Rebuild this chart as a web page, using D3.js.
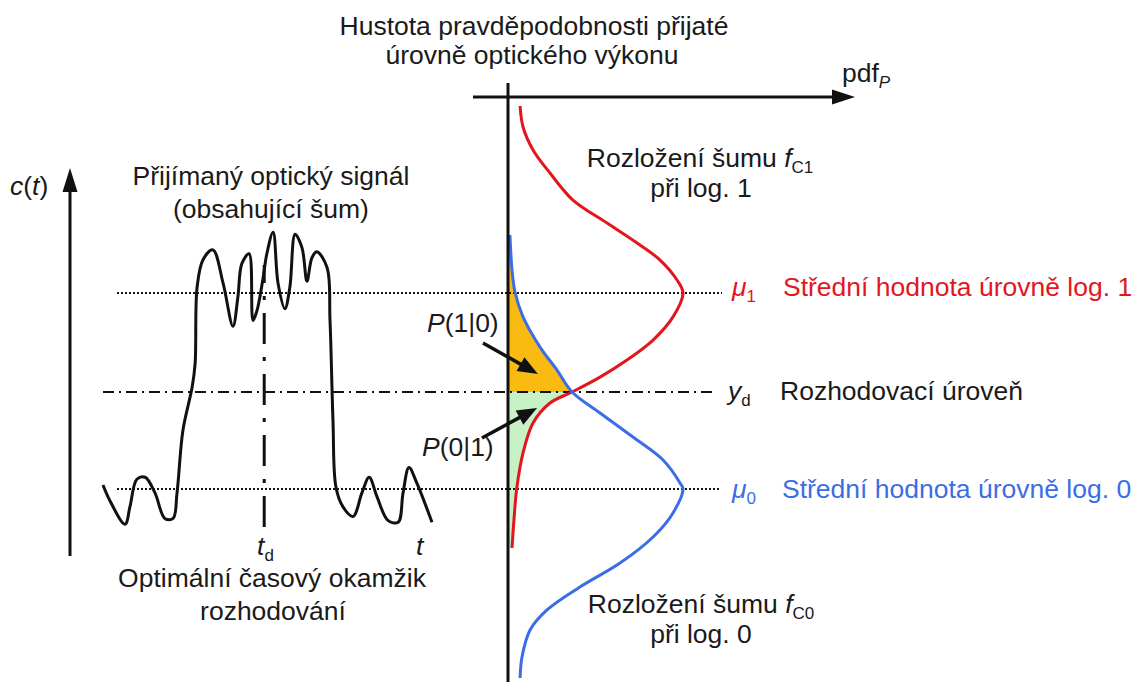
<!DOCTYPE html>
<html>
<head>
<meta charset="utf-8">
<script src="https://cdn.jsdelivr.net/npm/d3@7"></script>
<style>
  body { margin: 0; background: #fff; }
  text { font-family: "Liberation Sans", Arial, sans-serif; font-size: 26.5px; fill: #1a1a1a; }
</style>
</head>
<body>
<div id="chart"></div>
<script>
const WIDTH = 1136;
const HEIGHT = 682;

const RED = '#e3161d';
const BLUE = '#3b6de6';

// levels on the vertical axis (0 = mu0, 1 = mu1)
const levelNames = ['mu0', 'yd', 'mu1'];
const levelValues = [0, 0.495, 1];
const tDecision = 4.9;

// received noisy signal c(t)
const signalTime = [0, 0.21, 0.67, 0.82, 1.03, 1.28, 1.58, 1.88, 2.13, 2.25, 2.43, 2.71, 2.80, 2.86,
  3.04, 3.34, 3.65, 3.95, 4.10, 4.22, 4.44, 4.56, 4.68, 4.86, 4.98, 5.17, 5.32, 5.53, 5.68, 5.84,
  6.05, 6.20, 6.35, 6.50, 6.81, 6.90, 6.99, 7.08, 7.29, 7.60, 7.87, 8.09, 8.33, 8.66, 8.97, 9.12,
  9.30, 9.54, 10.0];
const signalLevel = [0.02, -0.06, -0.18, -0.09, 0.05, 0.06, -0.02, -0.15, -0.15, -0.02, 0.30, 0.52, 0.64, 1.03,
  1.17, 1.22, 1.05, 0.83, 0.98, 1.15, 1.20, 0.86, 0.91, 1.07, 1.20, 1.31, 1.05, 0.92, 1.03, 1.30,
  1.23, 1.06, 1.18, 1.21, 1.13, 0.86, 0.35, 0.01, -0.09, -0.14, -0.02, 0.06, -0.04, -0.16, -0.17, -0.02,
  0.11, 0.03, -0.17];

// noise distribution f_C1 (log. 1)
const pdf1Level = [1.954, 1.847, 1.730, 1.612, 1.474, 1.357, 1.245, 1.168, 1.066, 1.0, 0.878, 0.760,
  0.658, 0.571, 0.495, 0.439, 0.337, 0.184, 0.010, -0.158, -0.301];
const pdf1Density = [0.069, 0.086, 0.143, 0.240, 0.371, 0.566, 0.754, 0.869, 0.966, 1.0, 0.943, 0.829,
  0.680, 0.526, 0.366, 0.240, 0.143, 0.086, 0.051, 0.034, 0.023];

// noise distribution f_C0 (log. 0)
const pdf0Level = [1.296, 1.117, 1.005, 0.878, 0.724, 0.607, 0.495, 0.388, 0.265, 0.148, 0.031, 0,
  -0.122, -0.245, -0.378, -0.500, -0.617, -0.719, -0.857, -0.964];
const pdf0Density = [0.011, 0.023, 0.040, 0.086, 0.183, 0.280, 0.366, 0.526, 0.714, 0.886, 0.983, 1.0,
  0.943, 0.829, 0.640, 0.411, 0.223, 0.126, 0.080, 0.069];

const lvl = name => levelValues[levelNames.indexOf(name)];

const svg = d3.select('#chart')
  .append('svg')
    .attr('width', WIDTH)
    .attr('height', HEIGHT);

const levelY = d3.scaleLinear().domain([0, 1]).range([489, 293]);
const timeX = d3.scaleLinear().domain([0, 10]).range([103, 432]);
const densX = d3.scaleLinear().domain([0, 1]).range([508, 683]);

const sig = signalTime.map((t, i) => ({t, c: signalLevel[i]}));
const f1 = pdf1Level.map((c, i) => ({c, d: pdf1Density[i]}));
const f0 = pdf0Level.map((c, i) => ({c, d: pdf0Density[i]}));
const yd = lvl('yd');

// shaded error areas
const area = d3.area()
  .y(d => levelY(d.c))
  .x0(densX(0))
  .x1(d => densX(d.d))
  .curve(d3.curveCatmullRom);

svg.append('path')
  .attr('d', area(f0.filter(d => d.c >= yd - 1e-6)))
  .attr('fill', '#f9bb12');
svg.append('path')
  .attr('d', area(f1.filter(d => d.c <= yd + 1e-6)))
  .attr('fill', '#c6f2c6');

// horizontal reference lines
svg.append('line')
  .attr('x1', 117).attr('x2', 722)
  .attr('y1', levelY(lvl('mu1'))).attr('y2', levelY(lvl('mu1')))
  .attr('stroke', '#111').attr('stroke-width', 2).attr('stroke-dasharray', '2,2');
svg.append('line')
  .attr('x1', 117).attr('x2', 720)
  .attr('y1', levelY(lvl('mu0'))).attr('y2', levelY(lvl('mu0')))
  .attr('stroke', '#111').attr('stroke-width', 2).attr('stroke-dasharray', '2,2');
svg.append('line')
  .attr('x1', 103).attr('x2', 716)
  .attr('y1', levelY(yd)).attr('y2', levelY(yd))
  .attr('stroke', '#111').attr('stroke-width', 2).attr('stroke-dasharray', '11,5,2,5');

// decision instant t_d
svg.append('line')
  .attr('x1', timeX(tDecision)).attr('x2', timeX(tDecision))
  .attr('y1', 265).attr('y2', 527)
  .attr('stroke', '#111').attr('stroke-width', 3)
  .attr('stroke-dasharray', '31,13,4,13').attr('stroke-dashoffset', 13);

// pdf curves
const pdfLine = d3.line()
  .y(d => levelY(d.c))
  .x(d => densX(d.d))
  .curve(d3.curveCatmullRom);

svg.append('path').attr('d', pdfLine(f1))
  .attr('fill', 'none').attr('stroke', RED).attr('stroke-width', 3);
svg.append('path').attr('d', pdfLine(f0))
  .attr('fill', 'none').attr('stroke', BLUE).attr('stroke-width', 3);

// signal
const sigLine = d3.line()
  .x(d => timeX(d.t))
  .y(d => levelY(d.c))
  .curve(d3.curveCatmullRom);
svg.append('path').attr('d', sigLine(sig))
  .attr('fill', 'none').attr('stroke', '#111').attr('stroke-width', 3)
  .attr('stroke-linejoin', 'round');

// axes
svg.append('line').attr('x1', densX(0)).attr('x2', densX(0)).attr('y1', 83).attr('y2', HEIGHT)
  .attr('stroke', '#111').attr('stroke-width', 3);
svg.append('line').attr('x1', 473).attr('x2', 836).attr('y1', 97).attr('y2', 97)
  .attr('stroke', '#111').attr('stroke-width', 3);
svg.append('path').attr('d', 'M855,97 L832,89.5 L832,104.5 Z').attr('fill', '#111');

svg.append('line').attr('x1', 70).attr('x2', 70).attr('y1', 188).attr('y2', 556)
  .attr('stroke', '#111').attr('stroke-width', 3);
svg.append('path').attr('d', 'M70,168 L62.5,192 L77.5,192 Z').attr('fill', '#111');

// annotation arrows
const arrow = (x1, y1, x2, y2) => {
  const a = Math.atan2(y2 - y1, x2 - x1);
  const L = 20, W = 8;
  const bx = x2 - L * Math.cos(a), by = y2 - L * Math.sin(a);
  svg.append('line').attr('x1', x1).attr('y1', y1).attr('x2', bx + 2 * Math.cos(a)).attr('y2', by + 2 * Math.sin(a))
    .attr('stroke', '#111').attr('stroke-width', 3.5);
  svg.append('path')
    .attr('d', `M${x2},${y2} L${bx + W * Math.sin(a)},${by - W * Math.cos(a)} L${bx - W * Math.sin(a)},${by + W * Math.cos(a)} Z`)
    .attr('fill', '#111');
};
arrow(densX(-0.143), levelY(0.745), densX(0.171), levelY(0.587));
arrow(densX(-0.149), levelY(0.26), densX(0.166), levelY(0.413));

// texts
const rich = (x, y, parts, anchor, fill) => {
  const t = svg.append('text').attr('x', x).attr('y', y)
    .attr('text-anchor', anchor || 'start')
    .style('fill', fill || '#1a1a1a');
  let shift = 0;
  parts.forEach(p => {
    const s = t.append('tspan').text(p.t);
    const want = p.sub ? 6 : 0;
    if (want !== shift) { s.attr('dy', want - shift); shift = want; }
    if (p.sub) s.style('font-size', '17px');
    if (p.i) s.style('font-style', 'italic');
  });
  return t;
};

rich(534, 35, [{t: 'Hustota pravděpodobnosti přijaté'}], 'middle');
rich(532, 64, [{t: 'úrovně optického výkonu'}], 'middle');
rich(842, 82, [{t: 'pdf'}, {t: 'P', sub: true, i: true}]);

rich(10, 195, [{t: 'c', i: true}, {t: '('}, {t: 't', i: true}, {t: ')'}]);
rich(271, 185, [{t: 'Přijímaný optický signál'}], 'middle');
rich(271, 218, [{t: '(obsahující šum)'}], 'middle');

rich(257, 555, [{t: 't', i: true}, {t: 'd', sub: true}]);
rich(416, 555, [{t: 't', i: true}]);
rich(272, 587, [{t: 'Optimální časový okamžik'}], 'middle');
rich(273, 620, [{t: 'rozhodování'}], 'middle');

rich(700, 167, [{t: 'Rozložení šumu '}, {t: 'f', i: true}, {t: 'C1', sub: true}], 'middle');
rich(701, 197, [{t: 'při log. 1'}], 'middle');
rich(701, 613, [{t: 'Rozložení šumu '}, {t: 'f', i: true}, {t: 'C0', sub: true}], 'middle');
rich(701, 643, [{t: 'při log. 0'}], 'middle');

rich(427, 332, [{t: 'P', i: true}, {t: '(1|0)'}]);
rich(422, 456, [{t: 'P', i: true}, {t: '(0|1)'}]);

rich(732, 296, [{t: 'μ', i: true}, {t: '1', sub: true}], 'start', RED);
rich(783, 296, [{t: 'Střední hodnota úrovně log. 1'}], 'start', RED);
rich(728, 400, [{t: 'y', i: true}, {t: 'd', sub: true}]);
rich(780, 400, [{t: 'Rozhodovací úroveň'}]);
rich(732, 498, [{t: 'μ', i: true}, {t: '0', sub: true}], 'start', BLUE);
rich(782, 498, [{t: 'Střední hodnota úrovně log. 0'}], 'start', BLUE);
</script>
</body>
</html>
